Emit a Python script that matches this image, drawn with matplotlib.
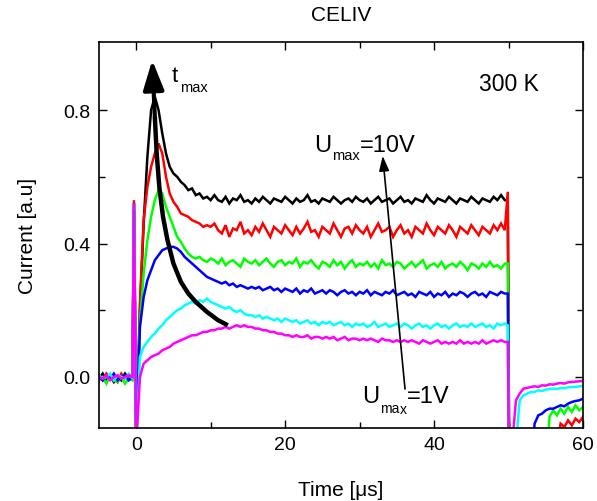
import numpy as np
import matplotlib
matplotlib.use("Agg")
import matplotlib.pyplot as plt
from matplotlib.ticker import FixedLocator

plt.rcParams['font.family'] = ['Liberation Sans', 'DejaVu Sans']

# Sampling grid of the transients (µs): pre-trigger, trigger edge, ramp, ramp end, recovery
TIME = np.concatenate([
    np.arange(-5.0, -0.4, 0.5),
    [-0.3, 0.0],
    np.arange(0.5, 49.6, 0.5),
    [49.9, 50.1],
    np.arange(50.5, 60.01, 0.5),
])

# Measured current transients, one per maximum voltage (10 V ... 1 V)
I_10V = [
    -0.005, 0.01, -0.01, 0.005, -0.015, 0.0, -0.01, 0.01, -0.005, 0.0, 0.50, -0.2,
    0.20, 0.46, 0.66, 0.80, 0.84, 0.80, 0.73, 0.67, 0.63, 0.61,
    0.60, 0.585, 0.575, 0.56, 0.565, 0.545, 0.55, 0.535, 0.54, 0.53,
    0.545, 0.53, 0.525, 0.54, 0.52, 0.535, 0.53, 0.545, 0.525, 0.53,
    0.52, 0.535, 0.525, 0.54, 0.53, 0.52, 0.535, 0.53, 0.525, 0.54,
    0.53, 0.52, 0.535, 0.525, 0.53, 0.545, 0.525, 0.53, 0.52, 0.535,
    0.53, 0.525, 0.54, 0.53, 0.52, 0.53, 0.535, 0.525, 0.54, 0.53,
    0.525, 0.535, 0.52, 0.53, 0.54, 0.525, 0.53, 0.535, 0.52, 0.53,
    0.54, 0.525, 0.53, 0.52, 0.535, 0.53, 0.525, 0.545, 0.53, 0.52,
    0.535, 0.53, 0.525, 0.54, 0.53, 0.52, 0.535, 0.53, 0.525, 0.54,
    0.53, 0.52, 0.535, 0.53, 0.525, 0.54, 0.53, 0.545, 0.53,
    0.53, -0.3,
    -0.3, -0.3, -0.3, -0.3, -0.3, -0.3, -0.3, -0.3, -0.3, -0.3,
    -0.3, -0.3, -0.3, -0.3, -0.3, -0.3, -0.3, -0.3, -0.3, -0.3,
]
I_8V = [
    0.005, -0.01, 0.01, -0.005, 0.0, -0.015, 0.01, -0.005, 0.005, -0.01, 0.53, -0.2,
    0.22, 0.47, 0.57, 0.63, 0.67, 0.70, 0.67, 0.60, 0.55, 0.525,
    0.51, 0.49, 0.485, 0.48, 0.47, 0.465, 0.46, 0.45, 0.455, 0.45,
    0.46, 0.44, 0.43, 0.455, 0.42, 0.445, 0.44, 0.465, 0.43, 0.44,
    0.425, 0.45, 0.435, 0.46, 0.44, 0.42, 0.45, 0.44, 0.43, 0.455,
    0.44, 0.425, 0.45, 0.43, 0.445, 0.465, 0.435, 0.44, 0.42, 0.45,
    0.44, 0.43, 0.46, 0.44, 0.42, 0.445, 0.45, 0.43, 0.455, 0.44,
    0.43, 0.45, 0.42, 0.44, 0.46, 0.435, 0.44, 0.45, 0.42, 0.44,
    0.455, 0.43, 0.44, 0.42, 0.45, 0.44, 0.43, 0.46, 0.44, 0.425,
    0.45, 0.44, 0.43, 0.455, 0.44, 0.42, 0.45, 0.44, 0.43, 0.455,
    0.44, 0.425, 0.45, 0.44, 0.43, 0.455, 0.44, 0.46, 0.44,
    0.555, -0.3,
    -0.3, -0.3, -0.3, -0.3, -0.3, -0.3, -0.3, -0.3, -0.3, -0.3,
    -0.3, -0.3, -0.2, -0.14, -0.15, -0.13, -0.145, -0.125, -0.135, -0.12,
]
I_6V = [
    -0.01, 0.0, -0.02, 0.005, -0.01, -0.015, 0.0, -0.02, -0.005, -0.01, 0.52, -0.2,
    0.16, 0.31, 0.41, 0.48, 0.53, 0.56, 0.55, 0.51, 0.48, 0.45,
    0.42, 0.405, 0.385, 0.37, 0.36, 0.355, 0.36, 0.35, 0.345, 0.355,
    0.35, 0.34, 0.355, 0.335, 0.345, 0.35, 0.34, 0.33, 0.355, 0.345,
    0.34, 0.35, 0.335, 0.345, 0.355, 0.34, 0.33, 0.345, 0.35, 0.335,
    0.345, 0.34, 0.355, 0.33, 0.345, 0.34, 0.35, 0.335, 0.325, 0.345,
    0.34, 0.33, 0.35, 0.335, 0.345, 0.325, 0.34, 0.35, 0.33, 0.34,
    0.335, 0.345, 0.33, 0.34, 0.325, 0.35, 0.335, 0.34, 0.33, 0.345,
    0.34, 0.325, 0.335, 0.345, 0.33, 0.34, 0.35, 0.325, 0.335, 0.34,
    0.33, 0.345, 0.325, 0.335, 0.34, 0.33, 0.345, 0.335, 0.32, 0.34,
    0.335, 0.325, 0.34, 0.33, 0.345, 0.33, 0.335, 0.325, 0.34,
    0.34, -0.3,
    -0.3, -0.3, -0.3, -0.3, -0.3, -0.3, -0.3, -0.3, -0.3, -0.3,
    -0.12, -0.10, -0.115, -0.095, -0.11, -0.09, -0.105, -0.085, -0.10, -0.09,
]
I_4V = [
    0.0, -0.01, 0.005, -0.005, 0.01, -0.01, 0.0, 0.005, -0.01, 0.0, 0.52, -0.2,
    0.15, 0.24, 0.29, 0.32, 0.35, 0.365, 0.38, 0.385, 0.39, 0.39,
    0.385, 0.375, 0.36, 0.35, 0.34, 0.33, 0.32, 0.31, 0.30, 0.295,
    0.29, 0.285, 0.28, 0.285, 0.275, 0.28, 0.27, 0.275, 0.27, 0.265,
    0.27, 0.265, 0.27, 0.26, 0.265, 0.27, 0.26, 0.265, 0.255, 0.265,
    0.26, 0.255, 0.265, 0.25, 0.26, 0.255, 0.265, 0.25, 0.255, 0.26,
    0.25, 0.26, 0.255, 0.245, 0.255, 0.26, 0.25, 0.255, 0.245, 0.255,
    0.25, 0.26, 0.245, 0.255, 0.25, 0.245, 0.255, 0.25, 0.26, 0.245,
    0.25, 0.255, 0.245, 0.25, 0.24, 0.255, 0.25, 0.245, 0.255, 0.24,
    0.25, 0.245, 0.255, 0.24, 0.25, 0.245, 0.255, 0.25, 0.24, 0.25,
    0.255, 0.245, 0.25, 0.24, 0.255, 0.25, 0.245, 0.255, 0.25,
    0.25, -0.3,
    -0.3, -0.3, -0.3, -0.3, -0.3, -0.3, -0.14, -0.115, -0.11, -0.10,
    -0.095, -0.095, -0.09, -0.085, -0.088, -0.08, -0.075, -0.072, -0.07, -0.065,
]
I_2V = [
    0.005, -0.005, 0.0, 0.01, -0.01, 0.005, 0.0, -0.005, 0.01, -0.005, 0.515, -0.2,
    0.06, 0.09, 0.105, 0.12, 0.13, 0.145, 0.155, 0.17, 0.18, 0.19,
    0.20, 0.205, 0.215, 0.22, 0.225, 0.22, 0.23, 0.225, 0.235, 0.225,
    0.22, 0.215, 0.21, 0.205, 0.21, 0.20, 0.195, 0.20, 0.19, 0.185,
    0.185, 0.18, 0.185, 0.175, 0.18, 0.175, 0.17, 0.175, 0.165, 0.175,
    0.17, 0.165, 0.17, 0.16, 0.165, 0.17, 0.16, 0.165, 0.155, 0.165,
    0.16, 0.165, 0.155, 0.16, 0.165, 0.155, 0.16, 0.15, 0.16, 0.155,
    0.16, 0.15, 0.155, 0.165, 0.15, 0.155, 0.16, 0.15, 0.155, 0.16,
    0.15, 0.16, 0.155, 0.145, 0.155, 0.16, 0.15, 0.155, 0.145, 0.155,
    0.16, 0.15, 0.155, 0.145, 0.155, 0.16, 0.15, 0.155, 0.15, 0.16,
    0.15, 0.155, 0.16, 0.15, 0.155, 0.145, 0.16, 0.155, 0.16,
    0.155, -0.3,
    -0.3, -0.2, -0.07, -0.055, -0.05, -0.045, -0.045, -0.04, -0.042, -0.038,
    -0.036, -0.035, -0.036, -0.033, -0.034, -0.031, -0.03, -0.03, -0.028, -0.027,
]
I_1V = [
    0.0, -0.005, 0.005, -0.01, 0.0, 0.005, -0.005, 0.0, 0.005, 0.0, 0.52, -0.2,
    0.0, 0.04, 0.05, 0.06, 0.065, 0.07, 0.08, 0.085, 0.09, 0.10,
    0.105, 0.11, 0.115, 0.12, 0.125, 0.125, 0.13, 0.135, 0.135, 0.14,
    0.14, 0.145, 0.145, 0.15, 0.145, 0.15, 0.155, 0.15, 0.155, 0.15,
    0.15, 0.145, 0.145, 0.14, 0.14, 0.135, 0.135, 0.13, 0.13, 0.125,
    0.125, 0.12, 0.125, 0.12, 0.12, 0.125, 0.115, 0.12, 0.12, 0.115,
    0.12, 0.115, 0.12, 0.11, 0.115, 0.12, 0.11, 0.115, 0.115, 0.11,
    0.115, 0.11, 0.115, 0.11, 0.105, 0.115, 0.11, 0.11, 0.105, 0.11,
    0.105, 0.11, 0.105, 0.11, 0.105, 0.10, 0.11, 0.105, 0.10, 0.105,
    0.11, 0.10, 0.105, 0.10, 0.105, 0.10, 0.11, 0.10, 0.105, 0.10,
    0.105, 0.10, 0.11, 0.10, 0.105, 0.11, 0.105, 0.11, 0.105,
    0.105, -0.3,
    -0.2, -0.07, -0.05, -0.035, -0.033, -0.03, -0.028, -0.03, -0.025, -0.026,
    -0.022, -0.023, -0.02, -0.018, -0.02, -0.016, -0.015, -0.014, -0.013, -0.012,
]

SERIES = [I_10V, I_8V, I_6V, I_4V, I_2V, I_1V]
COLORS = ['#000000', '#ff0000', '#00ff00', '#0000ff', '#00ffff', '#ff00ff']

# Guide through the extraction maxima (t_max shift)
TMAX_T = [12.3, 11.0, 9.5, 8.0, 7.0, 6.0, 5.0, 4.2, 3.6, 3.1, 2.75, 2.5]
TMAX_Y = [0.155, 0.17, 0.195, 0.225, 0.25, 0.285, 0.34, 0.41, 0.48, 0.57, 0.67, 0.78]
TMAX_TIP = (2.15, 0.95)

# Voltage direction arrow (1 V -> 10 V)
VOLT_FROM = (36.1, -0.036)
VOLT_TO = (33.1, 0.663)

fig = plt.figure(figsize=(5.97, 5.02), dpi=100)
ax = fig.add_axes([0.1658, 0.1454, 0.8107, 0.7689])

for vals, col in zip(SERIES, COLORS):
    ax.plot(TIME, vals, color=col, lw=1.8, solid_joinstyle='miter')

ax.plot(TMAX_T, TMAX_Y, color='k', lw=3.2, solid_capstyle='butt')
ax.annotate('', xy=TMAX_TIP, xytext=(TMAX_T[-1], TMAX_Y[-1]),
            arrowprops=dict(arrowstyle='-|>,head_length=1.0,head_width=0.35',
                            lw=3, color='k', mutation_scale=18,
                            shrinkA=0, shrinkB=0))
ax.annotate('', xy=VOLT_TO, xytext=VOLT_FROM,
            arrowprops=dict(arrowstyle='-|>,head_length=0.6,head_width=0.2',
                            lw=1.2, color='k', mutation_scale=15,
                            shrinkA=0, shrinkB=0))

# Annotations
ax.text(4.8, 0.887, 't', fontsize=16, ha='left', va='baseline')
ax.text(5.9, 0.857, 'max', fontsize=10.5, ha='left', va='baseline')
ax.text(46.0, 0.860, '300 K', fontsize=16.5, ha='left', va='baseline')
ax.text(23.9, 0.677, 'U', fontsize=17, ha='left', va='baseline')
ax.text(26.3, 0.653, 'max', fontsize=10.5, ha='left', va='baseline')
ax.text(30.0, 0.677, '=10V', fontsize=17, ha='left', va='baseline')
ax.text(30.4, -0.075, 'U', fontsize=17, ha='left', va='baseline')
ax.text(32.7, -0.105, 'ma', fontsize=10, ha='left', va='baseline')
ax.text(35.45, -0.108, 'x', fontsize=10, ha='left', va='baseline')
ax.text(36.4, -0.075, '=1V', fontsize=17, ha='left', va='baseline')

ax.set_xlim(-5, 60)
ax.set_ylim(-0.153, 1.004)
ax.set_xticks([0, 20, 40, 60])
ax.xaxis.set_minor_locator(FixedLocator([10, 30, 50]))
ax.set_yticks([0.0, 0.4, 0.8])
ax.set_yticklabels(['0.0', '0.4', '0.8'])
ax.yaxis.set_minor_locator(FixedLocator([0.2, 0.6]))
ax.tick_params(which='both', direction='in', top=True, right=True, width=1.0,
               labelsize=14)
ax.tick_params(which='major', length=6, pad=6)
ax.tick_params(which='minor', length=4)
for sp in ax.spines.values():
    sp.set_linewidth(1.2)

ax.set_xlabel('Time [\u03bcs]', fontsize=15, labelpad=19)
ax.set_ylabel('Current [a.u]', fontsize=15, labelpad=19)
ax.set_title('CELIV', fontsize=15, pad=16)

fig.savefig('out.png', dpi=100)
